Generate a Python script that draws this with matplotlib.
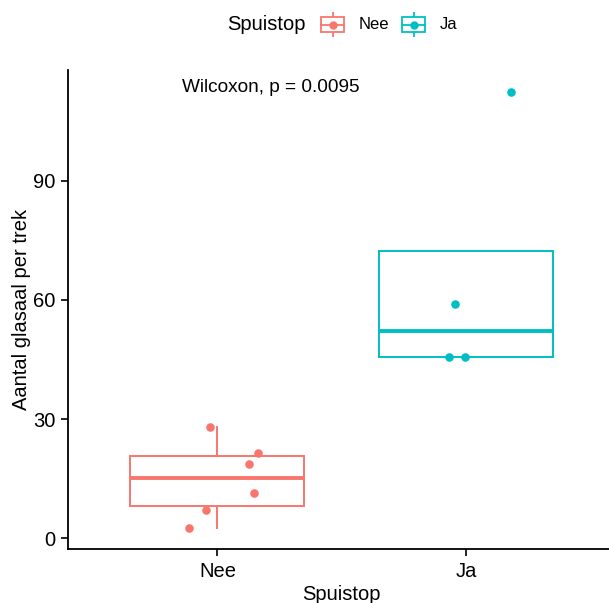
import numpy as np
import matplotlib.pyplot as plt
from matplotlib.patches import Rectangle

plt.rcParams["font.family"] = ["Liberation Sans", "DejaVu Sans"]

# aantallen glasaal per trek, per spuistop-groep
groepen = ["Nee", "Ja"]
kleuren = ["#F8766D", "#00BFC4"]
nee_waarden = [28.0, 21.4, 18.8, 11.4, 7.0, 2.7]
ja_waarden = [112.4, 58.9, 45.7, 45.7]
# horizontale jitter van de punten
nee_jitter = [-0.031, 0.164, 0.127, 0.149, -0.046, -0.116]
ja_jitter = [0.181, -0.043, -0.068, -0.005]
p_label = "Wilcoxon, p = 0.0095"

data = [nee_waarden, ja_waarden]
jitters = [nee_jitter, ja_jitter]

fig = plt.figure(figsize=(6.09, 6.03), dpi=100)
ax = fig.add_axes([68.3 / 609, 1 - 549.3 / 603, 546.7 / 609, 479.3 / 603])

for i, (waarden, kleur) in enumerate(zip(data, kleuren)):
    pos = i + 1
    ax.boxplot([waarden], positions=[pos], widths=0.7, whis=1.5,
               showfliers=False, showcaps=False, patch_artist=True,
               boxprops=dict(facecolor="white", edgecolor=kleur, linewidth=1.4),
               whiskerprops=dict(color=kleur, linewidth=1.4),
               medianprops=dict(color=kleur, linewidth=2.8),
               zorder=2)
    ax.scatter(pos + np.array(jitters[i]), waarden, s=38, color=kleur,
               zorder=3, linewidths=0)

alle = nee_waarden + ja_waarden
lo, hi = min(alle), max(alle)
marge = 0.05 * (hi - lo)
ax.set_ylim(lo - marge, hi + marge)
ax.set_xlim(0.4, 2.6)

ax.set_xticks([1, 2])
ax.set_xticklabels(groepen)
ax.set_yticks([0, 30, 60, 90])
ax.tick_params(labelsize=14.5, length=5, width=1.2, pad=4.3, colors="black")
for kant in ["top", "right"]:
    ax.spines[kant].set_visible(False)
for kant in ["left", "bottom"]:
    ax.spines[kant].set_linewidth(1.3)
    ax.spines[kant].set_color("black")

ax.set_xlabel("Spuistop", fontsize=14.5, labelpad=3)
ax.set_ylabel("Aantal glasaal per trek", fontsize=14.5, labelpad=1.5)

ax.text(0.859, 112.4, p_label, fontsize=13.7, ha="left", va="baseline")

# legenda bovenaan
fig.text(227 / 609, 1 - 24.5 / 603, "Spuistop", fontsize=14.5, va="center", ha="left")
sleutel_x = [320, 401]
tekst_x = [359, 440]
for sx, tx, naam, kleur in zip(sleutel_x, tekst_x, groepen, kleuren):
    kax = fig.add_axes([sx / 609, 1 - 37 / 603, 25 / 609, 25 / 603])
    kax.set_xlim(0, 1)
    kax.set_ylim(0, 1)
    kax.axis("off")
    kax.plot([0.5, 0.5], [0, 1], color=kleur, lw=1.3, zorder=1)
    kax.add_patch(Rectangle((0.03, 0.2), 0.94, 0.6, facecolor="white",
                            edgecolor=kleur, lw=1.3, zorder=2))
    kax.plot([0.03, 0.97], [0.5, 0.5], color=kleur, lw=1.3, zorder=3)
    kax.scatter([0.5], [0.5], s=36, color=kleur, linewidths=0, zorder=4)
    fig.text(tx / 609, 1 - 24.5 / 603, naam, fontsize=12, va="center", ha="left")

fig.savefig("out.png", dpi=100)
